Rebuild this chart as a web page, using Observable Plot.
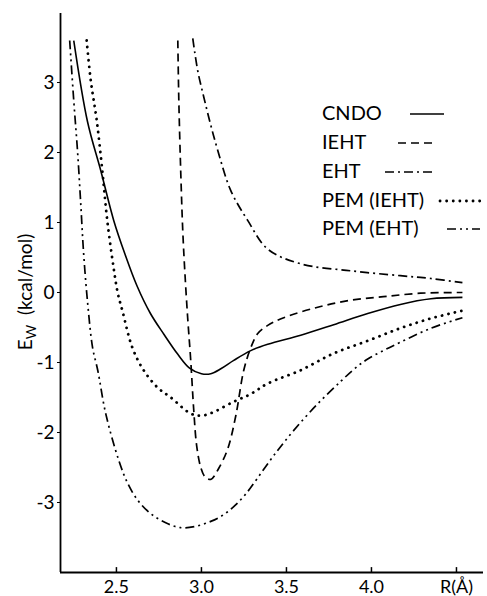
<!DOCTYPE html>
<html><head><meta charset="utf-8">
<script src="https://cdn.jsdelivr.net/npm/d3@7"></script>
<script src="https://cdn.jsdelivr.net/npm/@observablehq/plot@0.6"></script>
<style>
body{margin:0;background:#fff;}
#wrap{position:relative;width:487px;height:596px;font-family:Lato,sans-serif;color:#000;}
#ylab{position:absolute;left:26px;top:292px;transform:translate(-50%,-50%) rotate(-90deg);white-space:nowrap;font-size:19px;}
#ylab sub{font-size:14px;}
#legend{position:absolute;left:0;top:0;pointer-events:none;}
</style></head><body><div id="wrap"><div id="ylab">E<sub>W</sub>&nbsp;&nbsp;(kcal/mol)</div></div>
<script>
// ---- data ----
const xTicks = [2.5, 3.0, 3.5, 4.0, 4.5];
const xTickLabels = ["2.5", "3.0", "3.5", "4.0", "R(Å)"];
const yTicks = [-3, -2, -1, 0, 1, 2, 3];

const cndoR = [2.249, 2.33, 2.408, 2.484, 2.55, 2.62, 2.70, 2.78, 2.86, 2.93, 3.0, 3.055, 3.114, 3.19, 3.29, 3.39, 3.584, 3.778, 3.978, 4.17, 4.35, 4.535];
const cndoE = [3.6, 2.44, 1.74, 1.03, 0.55, 0.1, -0.3, -0.6, -0.88, -1.08, -1.16, -1.16, -1.09, -0.97, -0.83, -0.74, -0.61, -0.46, -0.30, -0.17, -0.09, -0.07];

const iehtR = [2.861, 2.867, 2.878, 2.89, 2.902, 2.919, 2.937, 2.955, 2.972, 2.996, 3.02, 3.055, 3.102, 3.155, 3.202, 3.249, 3.29, 3.33, 3.39, 3.484, 3.684, 3.878, 4.07, 4.29, 4.535];
const iehtE = [3.6, 2.74, 1.74, 0.89, 0.31, -0.36, -0.97, -1.69, -2.19, -2.5, -2.63, -2.67, -2.51, -2.23, -1.76, -1.11, -0.79, -0.59, -0.47, -0.36, -0.21, -0.11, -0.06, -0.01, 0.0];

const ehtR = [2.949, 2.978, 3.014, 3.055, 3.096, 3.172, 3.272, 3.39, 3.584, 3.878, 4.17, 4.35, 4.535];
const ehtE = [3.63, 3.17, 2.79, 2.39, 2.03, 1.46, 1.03, 0.62, 0.41, 0.31, 0.24, 0.20, 0.14];

const pemIehtR = [2.325, 2.349, 2.384, 2.417, 2.446, 2.486, 2.508, 2.535, 2.594, 2.66, 2.743, 2.82, 2.937, 2.996, 3.06, 3.19, 3.29, 3.39, 3.584, 3.778, 3.978, 4.17, 4.35, 4.535];
const pemIehtE = [3.6, 3.03, 2.46, 1.74, 1.03, 0.31, -0.01, -0.26, -0.79, -1.11, -1.36, -1.5, -1.73, -1.76, -1.72, -1.56, -1.45, -1.3, -1.11, -0.87, -0.69, -0.51, -0.37, -0.26];

const pemEhtR = [2.225, 2.249, 2.272, 2.29, 2.307, 2.331, 2.36, 2.39, 2.437, 2.514, 2.567, 2.626, 2.702, 2.79, 2.878, 2.966, 3.055, 3.12, 3.19, 3.26, 3.33, 3.425, 3.543, 3.684, 3.819, 3.9, 3.978, 4.07, 4.17, 4.35, 4.535];
const pemEhtE = [3.6, 2.74, 1.99, 1.27, 0.56, -0.16, -0.79, -1.11, -1.73, -2.4, -2.73, -2.97, -3.16, -3.29, -3.36, -3.34, -3.27, -3.19, -3.06, -2.88, -2.65, -2.33, -1.97, -1.59, -1.27, -1.09, -0.95, -0.83, -0.71, -0.51, -0.36];

const seriesNames = ["CNDO", "IEHT", "EHT", "PEM (IEHT)", "PEM (EHT)"];

// ---- styles ----
const styles = {
  "CNDO": {dash: null, w: 1.6, cap: "butt"},
  "IEHT": {dash: "8,5", w: 1.7, cap: "butt"},
  "EHT": {dash: "9,4,2,4", w: 1.7, cap: "butt"},
  "PEM (IEHT)": {dash: "0.1,6.5", w: 2.8, cap: "round"},
  "PEM (EHT)": {dash: "9,4,2,4,2,4", w: 1.7, cap: "butt"}
};
const seriesData = [[cndoR, cndoE], [iehtR, iehtE], [ehtR, ehtE], [pemIehtR, pemIehtE], [pemEhtR, pemEhtE]];
const series = seriesNames.map((name, k) => ({
  name, ...styles[name],
  points: seriesData[k][0].map((r, i) => ({R: r, E: seriesData[k][1][i]}))
}));

const xMin = 2.171, xMax = 4.659, yMin = -4, yMax = 3.986;

const chart = Plot.plot({
  width: 487, height: 596,
  marginLeft: 60, marginRight: 4, marginTop: 13, marginBottom: 24,
  x: {domain: [xMin, xMax]},
  y: {domain: [yMin, yMax]},
  style: {fontFamily: "Lato, sans-serif", fontSize: "18px", background: "white", color: "black"},
  marks: [
    Plot.axisY({ticks: yTicks, tickSize: 3, tickPadding: 3, label: null, tickFormat: d => String(d), fontSize: 19}),
    Plot.axisX({ticks: xTicks, tickSize: 0, tickPadding: 8, label: null, tickFormat: (d) => xTickLabels[xTicks.indexOf(d)], fontSize: 18}),
    Plot.ruleX(xTicks, {y1: yMin, y2: yMin + 0.07, strokeWidth: 1.5}),
    Plot.ruleX([xMin], {strokeWidth: 1.8}),
    Plot.ruleY([yMin], {strokeWidth: 1.8}),
    ...series.map(s => Plot.line(s.points, {
      x: "R", y: "E", curve: "catmull-rom", stroke: "black",
      strokeWidth: s.w, strokeDasharray: s.dash, strokeLinecap: s.cap
    }))
  ]
});
document.getElementById("wrap").prepend(chart);

// ---- legend overlay (layout only) ----
const legendTextX = 322;
const legendBaselines = [120, 149, 178, 207, 235];
const legendSample = [[410, 444], [398, 437], [385, 433], [440, 485], [447, 480]];
const svg = d3.select("#wrap").append("svg").attr("id", "legend").attr("width", 487).attr("height", 596);
series.forEach((s, i) => {
  svg.append("text").attr("x", legendTextX).attr("y", legendBaselines[i])
    .attr("font-family", "Lato, sans-serif").attr("font-size", 20).text(s.name);
  svg.append("line").attr("x1", legendSample[i][0]).attr("x2", legendSample[i][1])
    .attr("y1", legendBaselines[i] - 6).attr("y2", legendBaselines[i] - 6)
    .attr("stroke", "black").attr("stroke-width", s.w)
    .attr("stroke-dasharray", s.dash).attr("stroke-linecap", s.cap);
});
</script></body></html>
